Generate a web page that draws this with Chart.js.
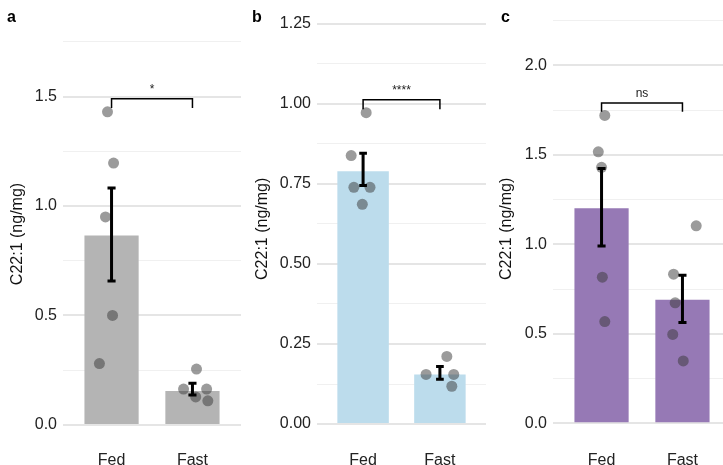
<!DOCTYPE html>
<html lang="en">
<head>
<meta charset="UTF-8">
<title>C22:1 Fed vs Fast</title>
<script src="https://cdn.jsdelivr.net/npm/chart.js"></script>
<style>
    body {
        margin: 0;
        width: 723px;
        height: 465px;
        overflow: hidden;
        background: #fff;
        position: relative;
        font-family: 'Liberation Sans', Arial, sans-serif;
    }
    canvas {
        position: absolute;
        top: 0;
    }
    .tag {
        position: absolute;
        top: 8px;
        font-weight: bold;
        font-size: 16px;
        color: #000;
    }
</style>
</head>
<body>
<canvas id="chartA" width="241" height="465" style="left:0px"></canvas>
<canvas id="chartB" width="245" height="465" style="left:241px"></canvas>
<canvas id="chartC" width="245" height="465" style="left:486px"></canvas>
<div class="tag" style="left:7px">a</div>
<div class="tag" style="left:252px">b</div>
<div class="tag" style="left:501px">c</div>

<script>
// groups
const groups = ['Fed', 'Fast'];

// panel a
const aMean = [0.865, 0.155];
const aLow = [0.657, 0.137];
const aHigh = [1.082, 0.19];
const aFed = [1.43, 1.196, 0.95, 0.50, 0.28];
const aFedJit = [-0.05, 0.025, -0.075, 0.012, -0.15];
const aFast = [0.255, 0.164, 0.164, 0.128, 0.11];
const aFastJit = [0.05, -0.11, 0.175, 0.04, 0.19];

// panel b
const bMean = [0.789, 0.155];
const bLow = [0.745, 0.14];
const bHigh = [0.845, 0.18];
const bFed = [0.972, 0.838, 0.739, 0.739, 0.686];
const bFedJit = [0.04, -0.155, -0.12, 0.09, -0.01];
const bFast = [0.211, 0.155, 0.155, 0.118];
const bFastJit = [0.09, -0.18, 0.18, 0.155];

// panel c
const cMean = [1.202, 0.69];
const cLow = [0.99, 0.563];
const cHigh = [1.423, 0.827];
const cFed = [1.72, 1.517, 1.43, 0.816, 0.568];
const cFedJit = [0.04, -0.04, 0, 0.01, 0.04];
const cFast = [1.103, 0.833, 0.673, 0.496, 0.348];
const cFastJit = [0.17, -0.11, -0.09, -0.12, 0.01];

// significance labels
const sigLabels = ['*', '****', 'ns'];

const FONT = "'Liberation Sans', Arial, sans-serif";

// error bars + comparison bracket
const extrasPlugin = {
    id: 'extras',
    afterDatasetsDraw(chart, args, opts) {
        const ctx = chart.ctx;
        const x = chart.scales.x, y = chart.scales.y;
        ctx.save();
        ctx.strokeStyle = '#000';
        ctx.lineWidth = 3;
        ctx.lineCap = 'butt';
        opts.low.forEach((lo, i) => {
            const px = x.getPixelForValue(i);
            const cap = x.getPixelForValue(i + 0.05) - px;
            const y1 = y.getPixelForValue(lo), y2 = y.getPixelForValue(opts.high[i]);
            ctx.beginPath();
            ctx.moveTo(px, y1); ctx.lineTo(px, y2);
            ctx.moveTo(px - cap, y1); ctx.lineTo(px + cap, y1);
            ctx.moveTo(px - cap, y2); ctx.lineTo(px + cap, y2);
            ctx.stroke();
        });
        // bracket
        const by = y.getPixelForValue(opts.bracket[0]);
        const bt = y.getPixelForValue(opts.bracket[1]);
        const x0 = x.getPixelForValue(0), x1 = x.getPixelForValue(1);
        ctx.lineWidth = 1.5;
        ctx.beginPath();
        ctx.moveTo(x0, bt); ctx.lineTo(x0, by); ctx.lineTo(x1, by); ctx.lineTo(x1, bt);
        ctx.stroke();
        ctx.fillStyle = '#222';
        ctx.font = '12px ' + FONT;
        ctx.textAlign = 'center';
        ctx.textBaseline = 'bottom';
        ctx.fillText(opts.label, (x0 + x1) / 2, by - 3);
        ctx.restore();
    }
};

function makeChart(id, p) {
    const points = [];
    p.fed.forEach((v, i) => points.push({ x: 0 + p.fedJit[i], y: v }));
    p.fast.forEach((v, i) => points.push({ x: 1 + p.fastJit[i], y: v }));

    return new Chart(document.getElementById(id), {
        type: 'bar',
        data: {
            datasets: [
                {
                    type: 'scatter',
                    data: points,
                    backgroundColor: 'rgba(55,55,55,0.5)',
                    borderWidth: 0,
                    pointRadius: 5.5,
                    order: 1
                },
                {
                    type: 'bar',
                    data: p.mean.map((v, i) => ({ x: i, y: v })),
                    backgroundColor: p.color,
                    borderWidth: 0,
                    categoryPercentage: 1,
                    barPercentage: 0.67,
                    order: 2
                }
            ]
        },
        options: {
            responsive: false,
            animation: false,
            layout: { autoPadding: false, padding: { top: p.padTop, left: 0, right: 0, bottom: 0 } },
            plugins: {
                legend: { display: false },
                tooltip: { enabled: false },
                extras: { low: p.low, high: p.high, bracket: p.bracket, label: p.label }
            },
            scales: {
                x: {
                    type: 'linear',
                    offset: false,
                    min: -0.6,
                    max: 1.6,
                    afterBuildTicks: s => { s.ticks = [{ value: 0 }, { value: 1 }]; },
                    afterFit: s => { s.height = 23; },
                    grid: { display: false, drawTicks: false },
                    border: { display: false },
                    ticks: {
                        padding: 9,
                        color: '#222',
                        font: { family: FONT, size: 16 },
                        callback: v => groups[v]
                    }
                },
                y: {
                    min: p.min,
                    max: p.max,
                    afterBuildTicks: s => {
                        const t = [];
                        for (let v = 0; v <= p.max + 1e-9; v += p.step) t.push({ value: +v.toFixed(4) });
                        s.ticks = t;
                    },
                    afterFit: s => { s.width = p.axisWidth; },
                    border: { display: false },
                    grid: {
                        drawTicks: false,
                        color: c => isMajor(c.tick.value, p.major) ? '#e5e5e5' : '#f0f0f0',
                        lineWidth: c => isMajor(c.tick.value, p.major) ? 2 : 1
                    },
                    ticks: {
                        padding: 6,
                        color: '#222',
                        font: { family: FONT, size: 16 },
                        callback: v => isMajor(v, p.major) ? v.toFixed(p.dec) : ''
                    },
                    title: {
                        display: true,
                        text: 'C22:1 (ng/mg)',
                        color: '#111',
                        font: { family: FONT, size: 16 },
                        padding: { top: p.titlePad, bottom: 0 }
                    }
                }
            }
        },
        plugins: [extrasPlugin]
    });
}

function isMajor(v, major) {
    const r = v / major;
    return Math.abs(r - Math.round(r)) < 1e-6;
}

makeChart('chartA', {
    mean: aMean, low: aLow, high: aHigh,
    fed: aFed, fedJit: aFedJit, fast: aFast, fastJit: aFastJit,
    color: '#b4b4b4', bracket: [1.49, 1.447], label: sigLabels[0],
    min: -0.078, max: 1.822, step: 0.25, major: 0.5, dec: 1,
    padTop: 26, axisWidth: 63, titlePad: 8
});

makeChart('chartB', {
    mean: bMean, low: bLow, high: bHigh,
    fed: bFed, fedJit: bFedJit, fast: bFast, fastJit: bFastJit,
    color: '#bcdcec', bracket: [1.012, 0.983], label: sigLabels[1],
    min: -0.056, max: 1.275, step: 0.125, major: 0.25, dec: 2,
    padTop: 14, axisWidth: 76, titlePad: 12
});

makeChart('chartC', {
    mean: cMean, low: cLow, high: cHigh,
    fed: cFed, fedJit: cFedJit, fast: cFast, fastJit: cFastJit,
    color: '#9679b5', bracket: [1.79, 1.74], label: sigLabels[2],
    min: -0.105, max: 2.278, step: 0.25, major: 0.5, dec: 1,
    padTop: 10, axisWidth: 67, titlePad: 11
});
</script>
</body>
</html>
